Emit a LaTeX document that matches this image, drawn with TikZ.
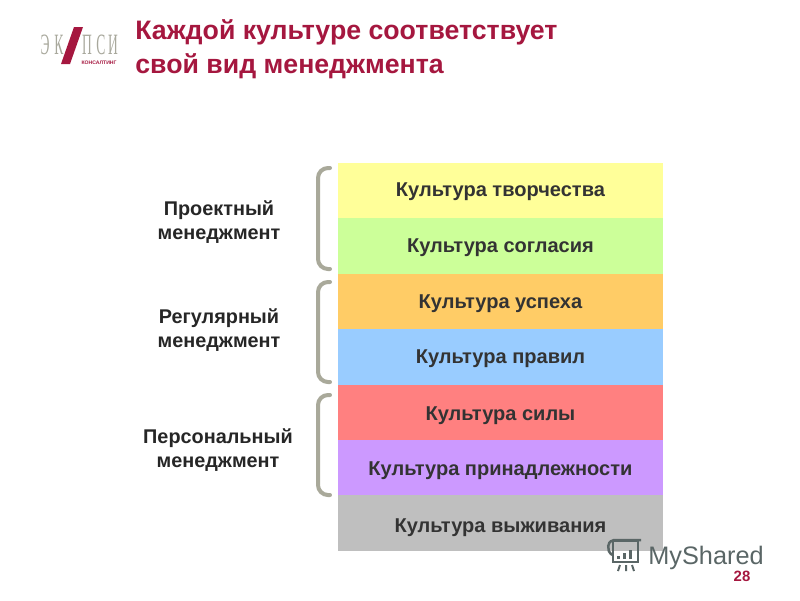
\documentclass[tikz,border=0pt]{standalone}
\usepackage{fontspec}
\setmainfont{Liberation Sans}
\newfontfamily\logofont{Liberation Serif}
\usetikzlibrary{positioning}
\definecolor{titlered}{HTML}{A5173F}
\definecolor{bracketgray}{HTML}{A9A99A}
\definecolor{logogray}{HTML}{A8A89C}
\definecolor{markgray}{HTML}{5A6666}
\definecolor{layeryellow}{HTML}{FFFF99}
\definecolor{layergreen}{HTML}{CCFF99}
\definecolor{layerorange}{HTML}{FFCC66}
\definecolor{layerblue}{HTML}{99CCFF}
\definecolor{layerred}{HTML}{FF8080}
\definecolor{layerviolet}{HTML}{CC99FF}
\definecolor{layergray}{HTML}{BFBFBF}
\newcommand{\drop}[2]{\raisebox{-#1pt}[8.2pt][2.4pt]{#2}}
\tikzset{
  layer/.style={minimum width=6.5cm,minimum height=1.108cm,inner sep=0pt,outer sep=0pt,
    font=\fontsize{11.4}{13}\selectfont\bfseries,text=black!80},
  group/.style={align=center,font=\fontsize{11.3}{13.6}\selectfont\bfseries,text=black!85},
  bracket/.style={bracketgray,line width=0.08cm,line cap=round,rounded corners=0.2cm},
  logoletter/.style={logogray,inner sep=0pt,xscale=0.55,yscale=1.2,font=\logofont\fontsize{14}{14}\selectfont},
  headline/.style={anchor=base west,inner sep=0pt,text=titlered,font=\fontsize{15.2}{17}\selectfont\bfseries}
}
\begin{document}
\begin{tikzpicture}[x=0.02cm,y=-0.02cm]
\useasboundingbox (0,0) rectangle (800,600);
% logo
\node[logoletter] (logoa) at (45,45) {Э};
\node[logoletter] (logob) at (59,45) {К};
\fill[titlered] (74,27) -- (83,27) -- (70,64) -- (61,64) -- cycle;
\node[logoletter] (logoc) at (87,45) {П};
\node[logoletter] (logod) at (101,45) {С};
\node[logoletter] (logoe) at (113,45) {И};
\node[titlered,inner sep=0pt,font=\fontsize{2.9}{3}\selectfont\bfseries] (logosub) at (99,63) {КОНСАЛТИНГ};
% title
\node[headline] (title) at (135,39) {Каждой культуре соответствует};
\node[headline] (subtitle) at (135,73) {свой вид менеджмента};
% layers
\node[layer,fill=layeryellow,anchor=north west] (creative) at (338,163) {\drop{0.5}{Культура творчества}};
\node[layer,fill=layergreen,below=0pt of creative] (consent) {\drop{0.6}{Культура согласия}};
\node[layer,fill=layerorange,below=0pt of consent] (success) {\drop{1.1}{Культура успеха}};
\node[layer,fill=layerblue,below=0pt of success] (rules) {\drop{1.1}{Культура правил}};
\node[layer,fill=layerred,below=0pt of rules] (force) {\drop{1.6}{Культура силы}};
\node[layer,fill=layerviolet,below=0pt of force] (belonging) {\drop{1.7}{Культура принадлежности}};
\node[layer,fill=layergray,below=0pt of belonging] (survival) {\drop{2.2}{Культура выживания}};
% brackets
\draw[bracket] (330,168) -- (318,168) -- (318,269) -- (330,269);
\draw[bracket] (330,282) -- (318,282) -- (318,382) -- (330,382);
\draw[bracket] (330,395) -- (318,395) -- (318,495) -- (330,495);
% group labels
\node[group] (project) at (219,222) {Проектный\\менеджмент};
\node[group] (regular) at (219,330) {Регулярный\\менеджмент};
\node[group] (personal) at (218,450) {Персональный\\менеджмент};
% watermark
\node[anchor=base west,inner sep=0pt,text=markgray,font=\fontsize{14.4}{17}\selectfont] (mark) at (648,564) {MyShared};
\draw[markgray,line width=0.05cm] (613,541) rectangle (638,562);
\draw[markgray,line width=0.05cm,rounded corners=0.04cm] (641,540) -- (612,540) -- (608,544) -- (609,553) -- (613,555);
\draw[markgray,line width=0.06cm] (618,559) -- (618,556) (624,559) -- (624,553) (630,559) -- (630,550);
\draw[markgray,line width=0.04cm] (620,565) -- (618,571) (626,565) -- (626,571) (632,565) -- (634,571);
% page number
\node[inner sep=0pt,text=titlered,font=\fontsize{8.5}{10}\selectfont\bfseries] (page) at (742,576) {28};
\end{tikzpicture}
\end{document}
